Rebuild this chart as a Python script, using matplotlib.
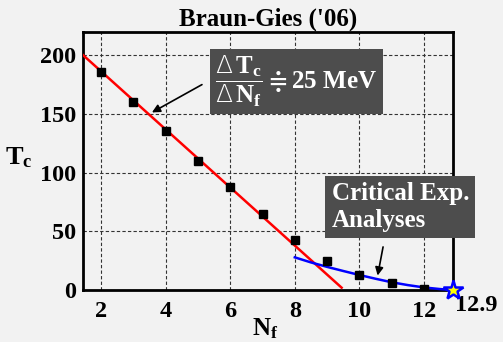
import matplotlib
matplotlib.use("Agg")
import matplotlib.pyplot as plt

plt.rcParams['mathtext.fontset'] = 'custom'
plt.rcParams['mathtext.rm'] = 'Liberation Serif:bold'
plt.rcParams['mathtext.it'] = 'Liberation Serif:bold'
plt.rcParams['mathtext.bf'] = 'Liberation Serif:bold'
plt.rcParams['mathtext.sf'] = 'DejaVu Sans:light'
plt.rcParams['font.family'] = ['Liberation Serif', 'DejaVu Serif']
plt.rcParams['font.weight'] = 'bold'

# data
nf = [2, 3, 4, 5, 6, 7, 8, 9, 10, 11, 12]
tc = [185.5, 160, 135, 109.5, 88, 64.5, 42.5, 24.5, 13, 5.8, 1.2]
fit_n = [1.44, 9.45]
fit_t = [200, 2]
crit_n = [8, 8.5, 9, 9.5, 10, 10.5, 11, 11.5, 12, 12.5, 12.9]
crit_t = [27.8, 23.5, 19.7, 16.2, 12.8, 9.6, 6.6, 4.2, 2.2, 0.8, 0]
star_n = [12.9]
star_t = [0]
xticks = [2, 4, 6, 8, 10, 12]
yticks = [0, 50, 100, 150, 200]

bg = '#f2f2f2'
fig = plt.figure(figsize=(5.03, 3.42), dpi=100, facecolor=bg)
ax = fig.add_axes([0.165, 0.152, 0.7356, 0.754], facecolor=bg)

ax.set_xlim(1.44, 12.9)
ax.set_ylim(0, 219.5)
ax.set_xticks(xticks)
ax.set_yticks(yticks)
ax.grid(True, color='#333333', linestyle=(0, (3, 2)), linewidth=0.8)
ax.set_axisbelow(True)
for s in ax.spines.values():
    s.set_linewidth(2)
    s.set_color('black')
ax.tick_params(length=0, labelsize=17.5)
ax.tick_params(axis='x', pad=8)
ax.tick_params(axis='y', pad=5)
for lab in ax.get_xticklabels() + ax.get_yticklabels():
    lab.set_fontweight('bold')

ax.plot(fit_n, fit_t, color='#ff0000', lw=1.8, zorder=3)
ax.plot(crit_n, crit_t, color='#0000ff', lw=1.8, zorder=3, clip_on=False)
ax.plot(nf, tc, 's', color='black', ms=6, zorder=4)
ax.plot(star_n, star_t, '*', ms=15, mfc='#ffff00', mec='#0000ff', mew=1.8,
        clip_on=False, zorder=5)

ax.text(12.95, -4, '12.9', fontsize=17.5, fontweight='bold', ha='left', va='top')

ax.set_title("Braun-Gies ('06)", fontsize=18, fontweight='bold', pad=5)
fig.text(0.038, 0.54, r'$\mathrm{T_c}$', fontsize=19, ha='center', va='center')
fig.text(0.527, 0.04, r'$\mathrm{N_f}$', fontsize=18, ha='center', va='center')

# annotation boxes
ax.text(0.357, 0.81, r'$\dfrac{\mathsf{\Delta}\,\mathrm{T_c}}{\mathsf{\Delta}\,\mathrm{N_f}}\doteqdot\mathrm{25\ MeV}$',
        transform=ax.transAxes, fontsize=18, color='white', ha='left', va='center',
        bbox=dict(boxstyle='square,pad=0.2', facecolor='#4d4d4d', edgecolor='none'))
ax.text(0.672, 0.225, 'Critical Exp.\nAnalyses', transform=ax.transAxes,
        fontsize=18, color='white', fontweight='bold', ha='left', va='bottom',
        linespacing=1.2, bbox=dict(boxstyle='square,pad=0.25', facecolor='#4d4d4d', edgecolor='none'))

ax.annotate('', xy=(3.5, 150), xytext=(5.2, 176),
            arrowprops=dict(arrowstyle='-|>', color='black', lw=1.2, mutation_scale=12))
ax.annotate('', xy=(10.55, 10), xytext=(10.75, 39),
            arrowprops=dict(arrowstyle='-|>', color='black', lw=1.2, mutation_scale=12))

fig.savefig('out.png', dpi=100, facecolor=bg)
